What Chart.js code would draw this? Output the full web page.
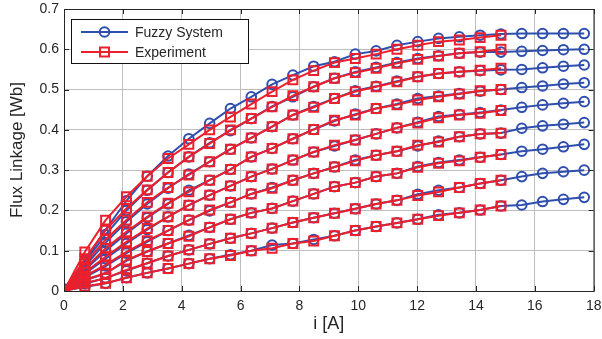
<!DOCTYPE html>
<html>
<head>
<meta charset="utf-8">
<script src="https://cdn.jsdelivr.net/npm/chart.js@4.4.1/dist/chart.umd.min.js"></script>
<style>
  html, body { margin: 0; padding: 0; background: #fff; overflow: hidden; }
  #wrap { width: 602px; height: 339px; }
</style>
</head>
<body>
<div id="wrap"><canvas id="chart" width="602" height="339"></canvas></div>
<script>
// current steps [A]
const current = [0, 0.707, 1.414, 2.121, 2.828, 3.536, 4.243, 4.950, 5.657, 6.364, 7.071, 7.778, 8.485,
  9.192, 9.899, 10.607, 11.314, 12.021, 12.728, 13.435, 14.142, 14.849, 15.556, 16.263, 16.971, 17.678];

// Experiment curves (red squares), top to bottom
const exp1 = [0, 0.097, 0.176, 0.234, 0.285, 0.329, 0.364, 0.400, 0.432, 0.464, 0.495, 0.524, 0.547, 0.567, 0.577, 0.588, 0.600, 0.610, 0.619, 0.623, 0.629, 0.635];
const exp2 = [0, 0.080, 0.151, 0.205, 0.251, 0.294, 0.333, 0.366, 0.400, 0.428, 0.457, 0.485, 0.507, 0.528, 0.542, 0.553, 0.565, 0.575, 0.583, 0.590, 0.594, 0.600];
const exp3 = [0, 0.068, 0.128, 0.176, 0.220, 0.257, 0.288, 0.321, 0.352, 0.380, 0.408, 0.437, 0.456, 0.478, 0.495, 0.507, 0.519, 0.532, 0.540, 0.544, 0.548, 0.553];
const exp4 = [0, 0.056, 0.106, 0.147, 0.184, 0.218, 0.246, 0.275, 0.302, 0.333, 0.354, 0.378, 0.401, 0.424, 0.437, 0.453, 0.462, 0.474, 0.482, 0.489, 0.497, 0.500];
const exp5 = [0, 0.046, 0.085, 0.122, 0.155, 0.184, 0.213, 0.238, 0.261, 0.284, 0.303, 0.325, 0.345, 0.362, 0.375, 0.390, 0.405, 0.417, 0.430, 0.437, 0.441, 0.448];
const exp6 = [0, 0.037, 0.065, 0.097, 0.125, 0.150, 0.176, 0.201, 0.220, 0.241, 0.255, 0.275, 0.292, 0.308, 0.323, 0.337, 0.347, 0.362, 0.370, 0.383, 0.390, 0.392];
const exp7 = [0, 0.028, 0.044, 0.077, 0.098, 0.118, 0.136, 0.158, 0.178, 0.194, 0.205, 0.223, 0.241, 0.259, 0.269, 0.284, 0.292, 0.307, 0.317, 0.323, 0.332, 0.339];
const exp8 = [0, 0.020, 0.032, 0.052, 0.069, 0.087, 0.102, 0.117, 0.131, 0.143, 0.156, 0.170, 0.182, 0.193, 0.204, 0.216, 0.225, 0.237, 0.246, 0.257, 0.267, 0.275];
const exp9 = [0, 0.012, 0.019, 0.033, 0.045, 0.056, 0.068, 0.080, 0.088, 0.100, 0.106, 0.118, 0.124, 0.137, 0.150, 0.160, 0.169, 0.178, 0.187, 0.194, 0.201, 0.211];

// Fuzzy system curves (blue circles), top to bottom
const fuz1 = [0.005, 0.075, 0.152, 0.224, 0.285, 0.335, 0.378, 0.416, 0.453, 0.482, 0.513, 0.536, 0.558, 0.569, 0.588, 0.596, 0.610, 0.619, 0.627, 0.631, 0.635, 0.638, 0.639, 0.639, 0.639, 0.639];
const fuz2 = [0.004, 0.072, 0.140, 0.200, 0.250, 0.294, 0.333, 0.368, 0.398, 0.428, 0.458, 0.482, 0.507, 0.528, 0.544, 0.555, 0.567, 0.577, 0.584, 0.590, 0.593, 0.593, 0.595, 0.597, 0.599, 0.600];
const fuz3 = [0.003, 0.062, 0.120, 0.172, 0.216, 0.255, 0.290, 0.321, 0.352, 0.380, 0.408, 0.437, 0.458, 0.478, 0.497, 0.508, 0.521, 0.532, 0.540, 0.544, 0.547, 0.549, 0.550, 0.554, 0.558, 0.561];
const fuz4 = [0.003, 0.052, 0.100, 0.143, 0.182, 0.216, 0.250, 0.275, 0.302, 0.333, 0.354, 0.378, 0.401, 0.422, 0.439, 0.453, 0.464, 0.478, 0.484, 0.490, 0.496, 0.500, 0.505, 0.509, 0.514, 0.517];
const fuz5 = [0.002, 0.043, 0.080, 0.118, 0.152, 0.184, 0.213, 0.238, 0.261, 0.284, 0.303, 0.325, 0.345, 0.360, 0.375, 0.390, 0.405, 0.419, 0.433, 0.438, 0.443, 0.449, 0.456, 0.462, 0.466, 0.470];
const fuz6 = [0.002, 0.034, 0.062, 0.094, 0.122, 0.150, 0.176, 0.199, 0.220, 0.241, 0.257, 0.275, 0.292, 0.308, 0.325, 0.337, 0.347, 0.360, 0.372, 0.383, 0.390, 0.392, 0.404, 0.410, 0.414, 0.418];
const fuz7 = [0.002, 0.026, 0.044, 0.075, 0.098, 0.118, 0.138, 0.158, 0.178, 0.194, 0.205, 0.223, 0.241, 0.259, 0.269, 0.284, 0.292, 0.309, 0.319, 0.325, 0.332, 0.339, 0.347, 0.352, 0.358, 0.364];
const fuz8 = [0.001, 0.018, 0.032, 0.050, 0.069, 0.087, 0.102, 0.117, 0.131, 0.143, 0.156, 0.170, 0.182, 0.193, 0.204, 0.216, 0.225, 0.240, 0.250, 0.257, 0.267, 0.275, 0.284, 0.292, 0.296, 0.300];
const fuz9 = [0.001, 0.010, 0.019, 0.033, 0.045, 0.056, 0.068, 0.080, 0.090, 0.100, 0.114, 0.118, 0.128, 0.137, 0.150, 0.160, 0.169, 0.178, 0.189, 0.194, 0.201, 0.211, 0.2135, 0.222, 0.2275, 0.2325];

const xTicks = [0, 2, 4, 6, 8, 10, 12, 14, 16, 18];
const yTicks = [0, 0.1, 0.2, 0.3, 0.4, 0.5, 0.6, 0.7];
const legendLabels = ['Fuzzy System', 'Experiment'];

const blue = '#2f4fae';
const red = '#ec1f2c';
const ink = '#262626';
const font = 'Arial, "Liberation Sans", sans-serif';

function toPoints(values) {
  return values.map((y, i) => ({ x: current[i], y }));
}

const datasets = [];
[exp1, exp2, exp3, exp4, exp5, exp6, exp7, exp8, exp9].forEach((arr) => {
  datasets.push({
    label: legendLabels[1],
    data: toPoints(arr),
    borderColor: red,
    borderWidth: 2,
    pointStyle: 'rect',
    pointRadius: 6.3,
    pointBorderWidth: 2,
    pointBorderColor: red,
    pointBackgroundColor: 'rgba(0,0,0,0)',
    order: 0
  });
});
[fuz1, fuz2, fuz3, fuz4, fuz5, fuz6, fuz7, fuz8, fuz9].forEach((arr) => {
  datasets.push({
    label: legendLabels[0],
    data: toPoints(arr),
    borderColor: blue,
    borderWidth: 2,
    pointStyle: 'circle',
    pointRadius: 4.8,
    pointBorderWidth: 2,
    pointBorderColor: blue,
    pointBackgroundColor: 'rgba(0,0,0,0)',
    order: 1
  });
});

// box, inward ticks and the legend, MATLAB style
const framePlugin = {
  id: 'frame',
  afterDraw(chart) {
    const { ctx, chartArea: a, scales } = chart;
    ctx.save();
    ctx.strokeStyle = ink;
    ctx.lineWidth = 1;
    ctx.strokeRect(a.left + 0.5, a.top + 0.5, a.right - a.left, a.bottom - a.top);
    ctx.beginPath();
    xTicks.forEach((v) => {
      const px = Math.round(scales.x.getPixelForValue(v)) + 0.5;
      ctx.moveTo(px, a.bottom); ctx.lineTo(px, a.bottom - 5);
      ctx.moveTo(px, a.top); ctx.lineTo(px, a.top + 5);
    });
    yTicks.forEach((v) => {
      const py = Math.round(scales.y.getPixelForValue(v)) + 0.5;
      ctx.moveTo(a.left, py); ctx.lineTo(a.left + 5, py);
      ctx.moveTo(a.right, py); ctx.lineTo(a.right - 5, py);
    });
    ctx.stroke();

    // legend box
    const lx = 71, ly = 19, lw = 177, lh = 44;
    ctx.fillStyle = '#fff';
    ctx.fillRect(lx, ly, lw, lh);
    ctx.strokeStyle = '#111';
    ctx.strokeRect(lx + 0.5, ly + 0.5, lw, lh);
    const rows = [
      { y: 32, color: blue, style: 'circle' },
      { y: 52, color: red, style: 'rect' }
    ];
    rows.forEach((r, i) => {
      ctx.strokeStyle = r.color;
      ctx.lineWidth = 2;
      ctx.beginPath();
      ctx.moveTo(81, r.y); ctx.lineTo(128, r.y);
      ctx.stroke();
      ctx.beginPath();
      if (r.style === 'circle') {
        ctx.arc(104.5, r.y, 4.8, 0, Math.PI * 2);
      } else {
        ctx.rect(100, r.y - 4.5, 9, 9);
      }
      ctx.stroke();
      ctx.fillStyle = ink;
      ctx.font = '14px ' + font;
      ctx.textBaseline = 'middle';
      ctx.fillText(legendLabels[i], 135, r.y + 1);
    });
    ctx.restore();
  }
};

new Chart(document.getElementById('chart'), {
  type: 'line',
  data: { datasets },
  options: {
    responsive: false,
    animation: false,
    devicePixelRatio: 1,
    layout: { padding: { top: 0, left: 3, right: 0, bottom: 0 } },
    plugins: { legend: { display: false }, tooltip: { enabled: false } },
    scales: {
      x: {
        type: 'linear',
        min: 0,
        max: 18,
        afterBuildTicks: (s) => { s.ticks = xTicks.map((v) => ({ value: v })); },
        afterFit: (s) => { s.height = 48; s.paddingRight = 5; },
        grid: { color: '#bdbdbd', lineWidth: 1, drawTicks: false },
        border: { display: false },
        ticks: { color: ink, font: { size: 14, family: font }, padding: 7 },
        title: { display: true, text: 'i [A]', color: ink, font: { size: 18, family: font }, padding: { top: 2 } }
      },
      y: {
        min: 0,
        max: 0.7,
        afterBuildTicks: (s) => { s.ticks = yTicks.map((v) => ({ value: v })); },
        afterFit: (s) => { s.width = 61; s.paddingTop = 9; },
        grid: { color: '#bdbdbd', lineWidth: 1, drawTicks: false },
        border: { display: false },
        ticks: {
          color: ink,
          font: { size: 14, family: font },
          padding: 5,
          callback: (v) => (v === 0 ? '0' : v.toFixed(1))
        },
        title: { display: true, text: 'Flux Linkage [Wb]', color: ink, font: { size: 17, family: font }, padding: { bottom: 3 } }
      }
    }
  },
  plugins: [framePlugin]
});
</script>
</body>
</html>
